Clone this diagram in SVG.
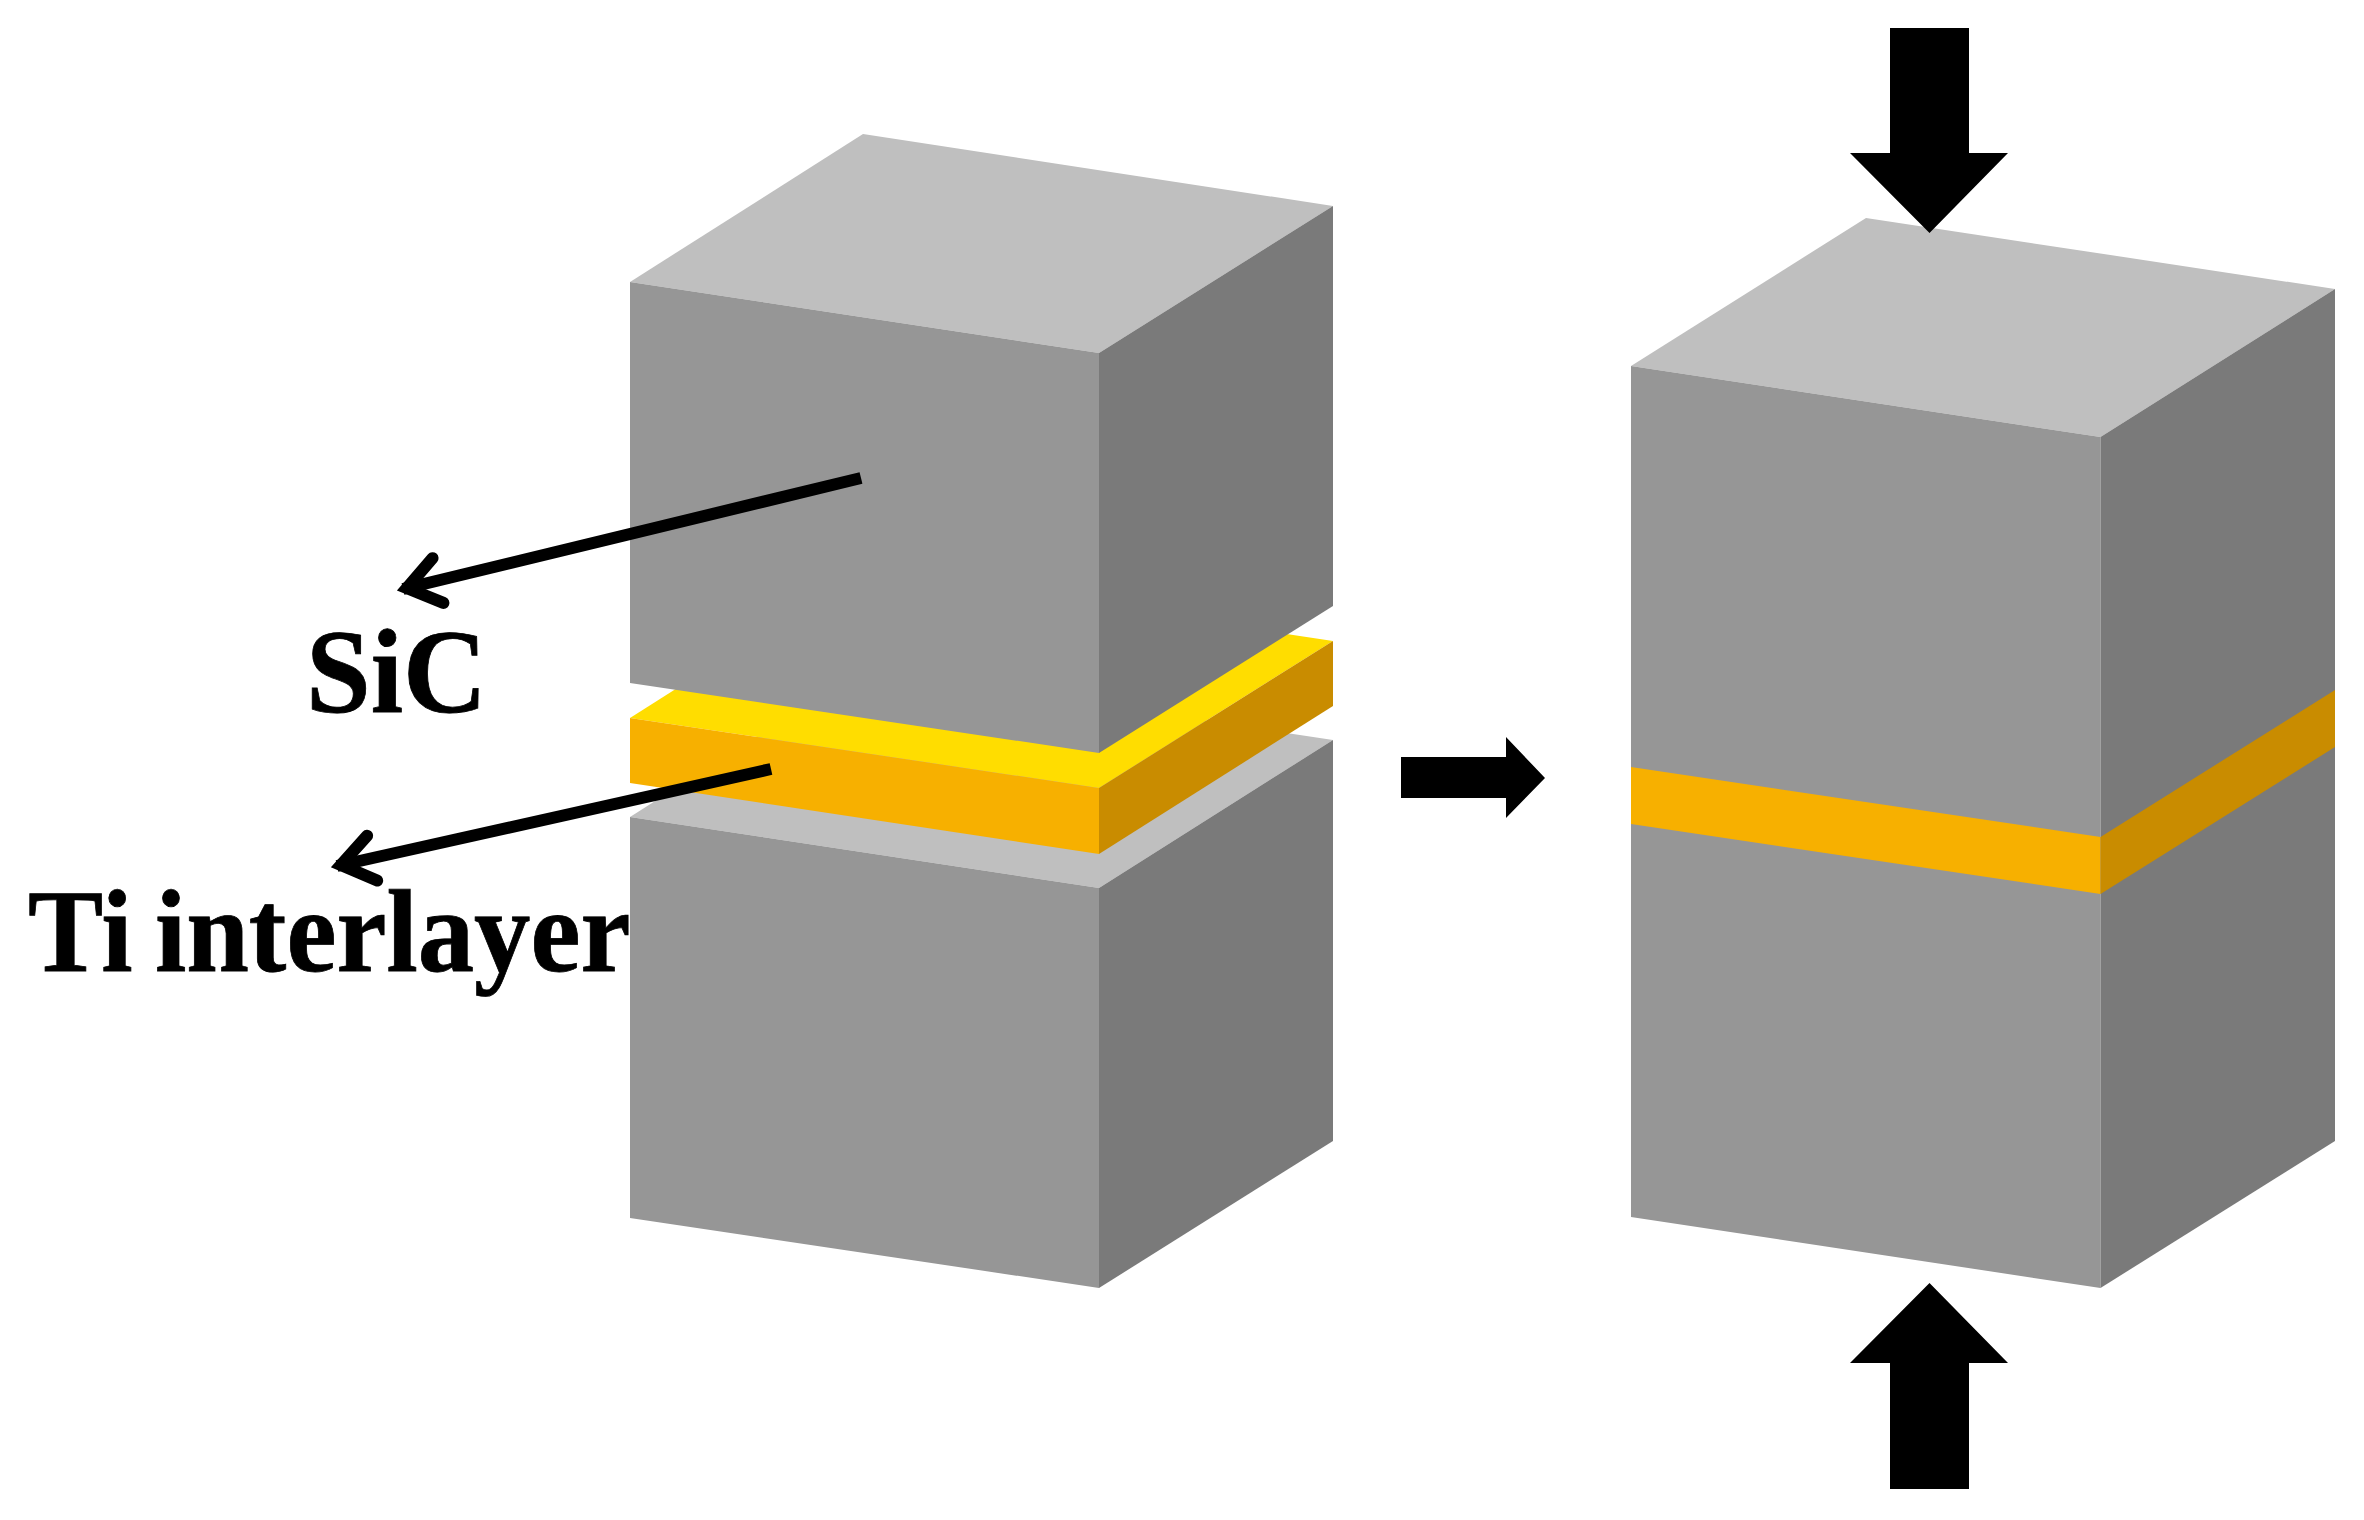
<svg xmlns="http://www.w3.org/2000/svg" width="2364" height="1520" viewBox="0 0 2364 1520">
<style>
.top{fill:#bfbfbf}.front{fill:#969696}.side{fill:#7a7a7a}
.ytop{fill:#ffdd00}.yfront{fill:#f7b000}.yside{fill:#c98c00}
.bar{fill:#000}
.lead{stroke:#000;stroke-width:12;fill:none;marker-end:url(#open)}
text{font-family:"Liberation Serif","Times New Roman",serif;font-weight:700;fill:#000;stroke:#000;stroke-width:0.800;text-rendering:geometricPrecision}
</style>
<defs>
<marker id="open" markerUnits="userSpaceOnUse" markerWidth="70" markerHeight="70" viewBox="-60 -35 70 70" refX="0" refY="0" orient="auto" overflow="visible">
<path d="M-36,-23 L-4,0 L-36,23" fill="none" stroke="#000" stroke-width="12" stroke-linecap="round"/>
</marker>
</defs>
<rect width="2364" height="1520" fill="#fff"/>
<g id="lower-block">
<polygon class="top" points="630,817 863,669 1333,740 1099,888"/>
<polygon class="front" points="630,817 1099,888 1099,1288 630,1218"/>
<polygon class="side" points="1099,888 1333,740 1333,1141 1099,1288"/>
</g>
<g id="ti-interlayer">
<polygon class="ytop" points="630,718 863,570 1333,641 1099,788"/>
<polygon class="yfront" points="630,718 1099,788 1099,854 630,783"/>
<polygon class="yside" points="1099,788 1333,641 1333,706 1099,854"/>
</g>
<g id="upper-block">
<polygon class="top" points="630,282 863,134 1333,206 1099,353"/>
<polygon class="front" points="630,282 1099,353 1099,753 630,683"/>
<polygon class="side" points="1099,353 1333,206 1333,606 1099,753"/>
</g>
<g id="bonded-block">
<polygon class="top" points="1631,366 1866,218 2335,289 2100.500,437"/>
<polygon class="front" points="1631,366 2100.500,437 2100.500,1288 1631,1217"/>
<polygon class="side" points="2100.500,437 2335,289 2335,1141 2100.500,1288"/>
<polygon class="yfront" points="1631,767 2100.500,837 2100.500,894 1631,824"/>
<polygon class="yside" points="2100.500,837 2335,690 2335,747 2100.500,894"/>
</g>
<g id="connectors">
<line class="lead" x1="861" y1="478" x2="403" y2="589"/>
<line class="lead" x1="771" y1="769" x2="337" y2="866"/>
<polygon class="bar" points="1401,757 1506,757 1506,737 1545,778 1506,818 1506,798 1401,798"/>
<polygon class="bar" points="1890,28 1969,28 1969,153 2008,153 1929.500,233 1850,153 1890,153"/>
<polygon class="bar" points="1890,1489 1969,1489 1969,1363 2008,1363 1929.500,1283 1850,1363 1890,1363"/>
</g>
<g id="label-sic"><text transform="translate(306,712) scale(0.97,1)" font-size="120">SiC</text></g>
<g id="label-ti"><text transform="translate(28,971) scale(0.955,1)" font-size="118" word-spacing="-6">Ti interlayer</text></g>
</svg>
